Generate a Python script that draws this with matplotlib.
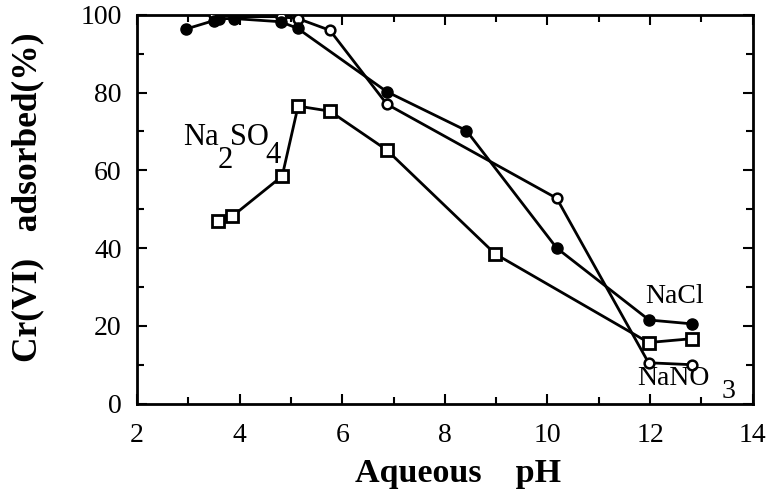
import matplotlib
matplotlib.use("Agg")
import matplotlib.pyplot as plt
from matplotlib.ticker import MultipleLocator

plt.rcParams['font.family'] = ['Liberation Serif', 'DejaVu Serif']

nacl_ph = [2.95, 3.5, 3.6, 3.9, 4.8, 5.13, 6.87, 8.42, 10.18, 11.98, 12.82]
nacl_val = [96.3, 98.5, 99.0, 99.0, 98.2, 96.5, 80.2, 70.2, 40.0, 21.5, 20.5]

nano3_ph = [3.5, 3.9, 4.8, 5.14, 5.76, 6.87, 10.18, 11.97, 12.82]
nano3_val = [100.0, 99.5, 99.5, 99.0, 96.0, 77.0, 52.8, 10.5, 10.0]

na2so4_ph = [3.58, 3.86, 4.83, 5.14, 5.76, 6.87, 8.98, 11.97, 12.82]
na2so4_val = [47.0, 48.2, 58.5, 76.5, 75.2, 65.2, 38.5, 15.7, 16.7]

x_ticks = [2, 4, 6, 8, 10, 12, 14]
y_ticks = [0, 20, 40, 60, 80, 100]

fig = plt.figure(figsize=(7.76, 4.91), dpi=100)
ax = fig.add_axes([0.1765, 0.178, 0.7935, 0.792])

ax.plot(na2so4_ph, na2so4_val, '-', color='black', lw=2, marker='s', ms=8,
        mfc='white', mec='black', mew=2, zorder=2)
ax.plot(nano3_ph, nano3_val, '-', color='black', lw=2, marker='o', ms=7,
        mfc='white', mec='black', mew=1.8, zorder=3)
ax.plot(nacl_ph, nacl_val, '-', color='black', lw=2, marker='o', ms=8,
        mfc='black', mec='black', zorder=4)

ax.set_xlim(2, 14)
ax.set_ylim(0, 100)
ax.set_xticks(x_ticks)
ax.set_yticks(y_ticks)
ax.xaxis.set_minor_locator(MultipleLocator(1))
ax.yaxis.set_minor_locator(MultipleLocator(10))
ax.tick_params(which='both', direction='in', top=True, right=True, width=1.5)
ax.tick_params(which='major', length=7, labelsize=20)
ax.tick_params(axis='x', which='major', pad=14)
ax.tick_params(axis='y', which='major', pad=11)
ax.tick_params(which='minor', length=5)
for s in ax.spines.values():
    s.set_linewidth(2)

ax.set_xlabel('Aqueous    pH', fontsize=24.5, fontweight='bold')
ax.xaxis.label.set_va('baseline')
ax.xaxis.set_label_coords(0.521, -0.2016)
ax.set_ylabel('Cr(VI)   adsorbed(%)', fontsize=25.5, fontweight='bold')
ax.yaxis.label.set_va('center')
ax.yaxis.set_label_coords(-0.178, 0.531)

tk = dict(fontsize=22, color='black', zorder=6, va='baseline')
ax.text(2.90, 66.5, 'Na', **tk)
ax.text(3.58, 60.6, '2', **tk)
ax.text(3.81, 66.5, 'SO', **tk)
ax.text(4.50, 61.9, '4', **tk)
tk2 = dict(fontsize=20, color='black', zorder=6, va='baseline')
ax.text(11.90, 25.9, 'NaCl', **tk2)
ax.text(11.74, 4.8, 'NaNO', **tk2)
ax.text(13.40, 1.4, '3', **tk2)

fig.savefig('out.png', dpi=100)
